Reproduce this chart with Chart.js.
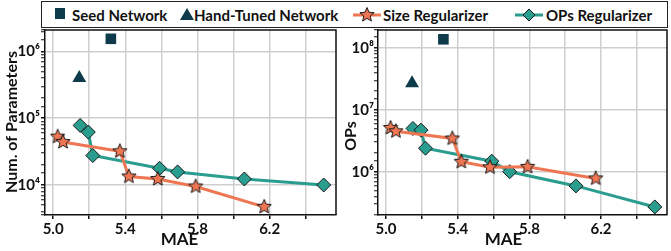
<!DOCTYPE html>
<html>
<head>
<meta charset="utf-8">
<script src="https://cdn.jsdelivr.net/npm/chart.js@4.4.1/dist/chart.umd.min.js"></script>
<style>
  html, body { margin: 0; padding: 0; background: #fff; }
  #wrap { position: relative; width: 671px; height: 251px; overflow: hidden; font-family: Lato, "Open Sans", sans-serif; font-weight: bold; }
  .box { position: absolute; }
  #legend { position: absolute; left: 41px; top: 1px; width: 625px; height: 25px; border: 1.5px solid #222; background: #fff; z-index: 3; }
  .lg { position: absolute; top: 3px; font-size: 15px; color: #111; line-height: 20px; white-space: nowrap; }
  .lgmark { position: absolute; }
</style>
</head>
<body>
<div id="wrap">
  <div id="legend">
    <canvas class="lgmark" id="lgSeed" width="12" height="12" style="left:12px;top:6px"></canvas>
    <div class="lg" style="left:30px">Seed Network</div>
    <canvas class="lgmark" id="lgHand" width="14" height="12" style="left:138px;top:6px"></canvas>
    <div class="lg" style="left:152px">Hand-Tuned Network</div>
    <canvas class="lgmark" id="lgSize" width="28" height="18" style="left:311px;top:4px"></canvas>
    <div class="lg" style="left:341px">Size Regularizer</div>
    <canvas class="lgmark" id="lgOps" width="28" height="18" style="left:473px;top:4px"></canvas>
    <div class="lg" style="left:504px">OPs Regularizer</div>
  </div>
  <div class="box" style="left:0;top:0;width:344px;height:251px"><canvas id="paramsChart"></canvas></div>
  <div class="box" style="left:338px;top:0;width:337px;height:251px"><canvas id="opsChart"></canvas></div>
</div>
<script>
// data
const sizeMae = [5.025, 5.055, 5.37, 5.42, 5.58, 5.79, 6.17];
const sizeParams = [5.3e4, 4.4e4, 3.2e4, 1.34e4, 1.23e4, 9.5e3, 4.7e3];
const sizeOps = [5.1e6, 4.5e6, 3.45e6, 1.45e6, 1.18e6, 1.2e6, 7.8e5];

const opsMae = [5.15, 5.195, 5.22, 5.59, 5.69, 6.06, 6.50];
const opsParams = [7.8e4, 6.2e4, 2.76e4, 1.78e4, 1.57e4, 1.23e4, 1.0e4];
const opsOps = [5.0e6, 4.7e6, 2.4e6, 1.48e6, 1.0e6, 5.9e5, 2.7e5];

const seedMae = [5.32];
const seedParams = [1.55e6];
const seedOps = [1.38e8];

const handMae = [5.145];
const handParams = [4.0e5];
const handOps = [2.7e7];

const xTicks = ['5.0', '5.4', '5.8', '6.2'];
const supDigits = { 4: '⁴', 5: '⁵', 6: '⁶', 7: '⁷', 8: '⁸' };

const NAVY = '#0e3b4b';
const ORANGE = '#ee7652';
const TEAL = '#2a9d8f';
const FONT = 'Lato, "Open Sans", sans-serif';

// marker images
function makeStar(r, fill) {
    const s = Math.ceil(r * 2 + 3);
    const c = document.createElement('canvas');
    c.width = s; c.height = s;
    drawStar(c.getContext('2d'), s / 2, s / 2, r, fill);
    return c;
}

function drawStar(ctx, cx, cy, r, fill) {
    ctx.beginPath();
    for (let i = 0; i < 10; i++) {
        const rad = i % 2 ? r * 0.45 : r;
        const a = -Math.PI / 2 + i * Math.PI / 5;
        ctx.lineTo(cx + rad * Math.cos(a), cy + rad * Math.sin(a));
    }
    ctx.closePath();
    ctx.fillStyle = fill;
    ctx.fill();
    ctx.lineWidth = 1;
    ctx.strokeStyle = '#1a1a1a';
    ctx.stroke();
}

const starImg = makeStar(7.5, ORANGE);

function zip(xs, ys) {
    return xs.map((x, i) => ({ x: x, y: ys[i] }));
}

function isMajor(v) {
    const l = Math.log10(v);
    return Math.abs(l - Math.round(l)) < 1e-9;
}

// frame on top/right + axis titles placed like the figure
const framePlugin = {
    id: 'frame',
    afterDraw(chart, args, opts) {
        const a = chart.chartArea;
        const ctx = chart.ctx;
        ctx.save();
        ctx.strokeStyle = '#111';
        ctx.lineWidth = 1.5;
        ctx.beginPath();
        ctx.moveTo(a.left, a.top);
        ctx.lineTo(a.right, a.top);
        ctx.lineTo(a.right, a.bottom);
        ctx.stroke();
        ctx.fillStyle = '#111';
        ctx.font = 'bold 17px ' + FONT;
        ctx.textAlign = 'center';
        ctx.textBaseline = 'middle';
        ctx.fillText('MAE', (a.left + a.right) / 2 + opts.titleShift, 240);
        ctx.translate(opts.yTitleX, opts.yTitleY);
        ctx.rotate(-Math.PI / 2);
        ctx.font = 'bold 16px ' + FONT;
        ctx.fillText(opts.yTitle, 0, 0);
        ctx.restore();
    }
};

function buildChart(id, cfg) {
    const ctx = document.getElementById(id);
    return new Chart(ctx, {
        type: 'scatter',
        data: {
            datasets: [
                {
                    label: 'Seed Network',
                    data: zip(seedMae, cfg.seedY),
                    pointStyle: 'rect',
                    pointRadius: 7.5,
                    backgroundColor: NAVY,
                    borderColor: NAVY,
                    borderWidth: 0
                },
                {
                    label: 'Hand-Tuned Network',
                    data: zip(handMae, cfg.handY),
                    pointStyle: 'triangle',
                    pointRadius: 8,
                    backgroundColor: NAVY,
                    borderColor: NAVY,
                    borderWidth: 0
                },
                {
                    label: 'Size Regularizer',
                    data: zip(sizeMae, cfg.sizeY),
                    showLine: true,
                    borderColor: ORANGE,
                    borderWidth: 3,
                    pointStyle: starImg,
                    backgroundColor: ORANGE
                },
                {
                    label: 'OPs Regularizer',
                    data: zip(opsMae, cfg.opsY),
                    showLine: true,
                    borderColor: TEAL,
                    borderWidth: 3,
                    pointStyle: 'rectRot',
                    pointRadius: 7,
                    pointBackgroundColor: TEAL,
                    pointBorderColor: '#1a1a1a',
                    pointBorderWidth: 1,
                    backgroundColor: TEAL
                }
            ]
        },
        options: {
            responsive: true,
            maintainAspectRatio: false,
            animation: false,
            devicePixelRatio: 1,
            layout: { padding: { top: 30, right: cfg.padRight, left: 0, bottom: 0 } },
            plugins: {
                legend: { display: false },
                tooltip: { enabled: false },
                frame: {
                    titleShift: cfg.titleShift,
                    yTitle: cfg.yTitle,
                    yTitleX: cfg.yTitleX,
                    yTitleY: cfg.yTitleY
                }
            },
            scales: {
                x: {
                    type: 'linear',
                    min: 4.955,
                    max: 6.568,
                    afterFit(scale) { scale.height = 36; },
                    border: { color: '#111', width: 1.5 },
                    grid: { color: '#cfcfcf', lineWidth: 1.5, tickLength: 4, tickColor: '#111' },
                    ticks: {
                        stepSize: 0.2,
                        includeBounds: false,
                        autoSkip: false,
                        maxRotation: 0,
                        padding: 1,
                        color: '#111',
                        font: { family: FONT, size: 15, weight: 'bold' },
                        callback(v) {
                            const lbl = v.toFixed(1);
                            return xTicks.includes(lbl) ? lbl : '';
                        }
                    }
                },
                y: {
                    type: 'logarithmic',
                    min: cfg.yMin,
                    max: cfg.yMax,
                    afterFit(scale) { scale.width = cfg.yAxisWidth; },
                    border: { color: '#111', width: 1.5 },
                    grid: {
                        color: c => isMajor(c.tick.value) ? '#cfcfcf' : 'rgba(0,0,0,0)',
                        lineWidth: 1.5,
                        tickLength: 4,
                        tickColor: '#111',
                        tickWidth: c => isMajor(c.tick.value) ? 1.5 : 1
                    },
                    ticks: {
                        autoSkip: false,
                        padding: cfg.yTickPad,
                        color: '#111',
                        font: { family: FONT, size: 15, weight: 'bold' },
                        callback(v) {
                            if (!isMajor(v)) return '';
                            const e = Math.round(Math.log10(v));
                            return '10' + supDigits[e];
                        }
                    }
                }
            }
        },
        plugins: [framePlugin]
    });
}

// legend marks
function legendMarks() {
    let c = document.getElementById('lgSeed').getContext('2d');
    c.fillStyle = NAVY;
    c.fillRect(1, 0, 10, 11);

    c = document.getElementById('lgHand').getContext('2d');
    c.fillStyle = NAVY;
    c.beginPath();
    c.moveTo(7, 0); c.lineTo(14, 12); c.lineTo(0, 12); c.closePath();
    c.fill();

    c = document.getElementById('lgSize').getContext('2d');
    c.strokeStyle = ORANGE; c.lineWidth = 3;
    c.beginPath(); c.moveTo(0, 9); c.lineTo(28, 9); c.stroke();
    drawStar(c, 14, 9, 7.5, ORANGE);

    c = document.getElementById('lgOps').getContext('2d');
    c.strokeStyle = TEAL; c.lineWidth = 3;
    c.beginPath(); c.moveTo(0, 9); c.lineTo(28, 9); c.stroke();
    c.beginPath();
    c.moveTo(14, 3); c.lineTo(20, 9); c.lineTo(14, 15); c.lineTo(8, 9); c.closePath();
    c.fillStyle = TEAL; c.fill();
    c.lineWidth = 1; c.strokeStyle = '#1a1a1a'; c.stroke();
}

document.addEventListener('DOMContentLoaded', () => {
    legendMarks();
    buildChart('paramsChart', {
        yTitle: 'Num. of Parameters', yTitleX: 12, yTitleY: 122,
        yAxisWidth: 45, yTickPad: 1, yMin: 3.55e3, yMax: 2.1e6,
        seedY: seedParams, handY: handParams, sizeY: sizeParams, opsY: opsParams,
        titleShift: -11, padRight: 3
    });
    buildChart('opsChart', {
        yTitle: 'OPs', yTitleX: 13, yTitleY: 136,
        yAxisWidth: 40, yTickPad: 0, yMin: 2.0e5, yMax: 1.95e8,
        seedY: seedOps, handY: handOps, sizeY: sizeOps, opsY: opsOps,
        titleShift: -19, padRight: 1
    });
});
</script>
</body>
</html>
